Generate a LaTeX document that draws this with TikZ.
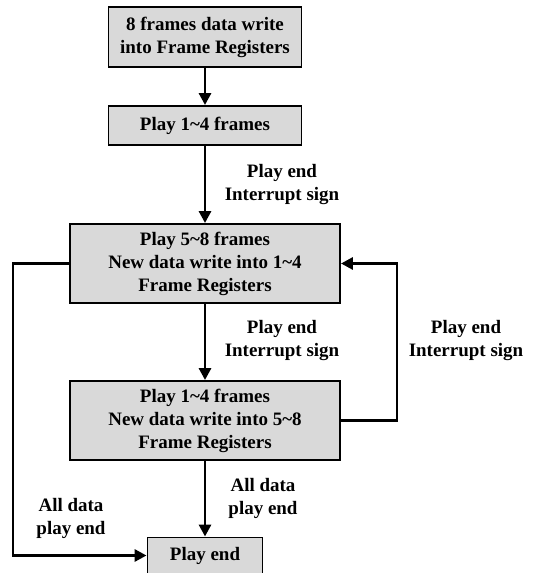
\documentclass[tikz,border=0pt]{standalone}
\usepackage{fontspec}
\setmainfont{Liberation Serif}
\usetikzlibrary{arrows.meta}

\begin{document}
\begin{tikzpicture}[
  box/.style={draw, line width=1.1pt, fill=black!15, align=center, inner sep=0pt},
  lbl/.style={align=center},
  flow/.style={line width=1.7pt, -{Triangle[length=0.24cm,width=0.24cm]}},
  every node/.style={font=\fontsize{10.8}{13.1}\selectfont\bfseries}
]
\useasboundingbox (0,0) rectangle (10.64,11.46);
% boxes
\node[box, minimum width=3.86cm, minimum height=1.2cm] (load) at (4.1,10.72) {8 frames data write\\into Frame Registers};
\node[box, minimum width=3.86cm, minimum height=0.78cm] (playA) at (4.1,8.95) {Play 1\textasciitilde4 frames};
\node[box, minimum width=5.4cm, minimum height=1.58cm] (playB) at (4.1,6.19) {Play 5\textasciitilde8 frames\\New data write into 1\textasciitilde4\\Frame Registers};
\node[box, minimum width=5.4cm, minimum height=1.58cm] (playC) at (4.1,3.05) {Play 1\textasciitilde4 frames\\New data write into 5\textasciitilde8\\Frame Registers};
\node[box, minimum width=2.3cm, minimum height=0.72cm] (stop) at (4.1,0.35) {Play end};
% arrows
\draw[flow] (load) -- (playA);
\draw[flow] (playA) -- (playB);
\draw[flow] (playB) -- (playC);
\draw[flow] (playC) -- (stop);
\draw[flow] (playC.east) -| (7.94,6.19) -- (playB.east);
\draw[flow] (playB.west) -| (0.26,0.35) -- (stop.west);
% labels
\node[lbl] (irqA) at (5.64,7.76) {Play end\\Interrupt sign};
\node[lbl] (irqB) at (5.64,4.64) {Play end\\Interrupt sign};
\node[lbl] (irqC) at (9.32,4.64) {Play end\\Interrupt sign};
\node[lbl] (doneA) at (5.26,1.5) {All data\\play end};
\node[lbl] (doneB) at (1.42,1.1) {All data\\play end};
\end{tikzpicture}
\end{document}
